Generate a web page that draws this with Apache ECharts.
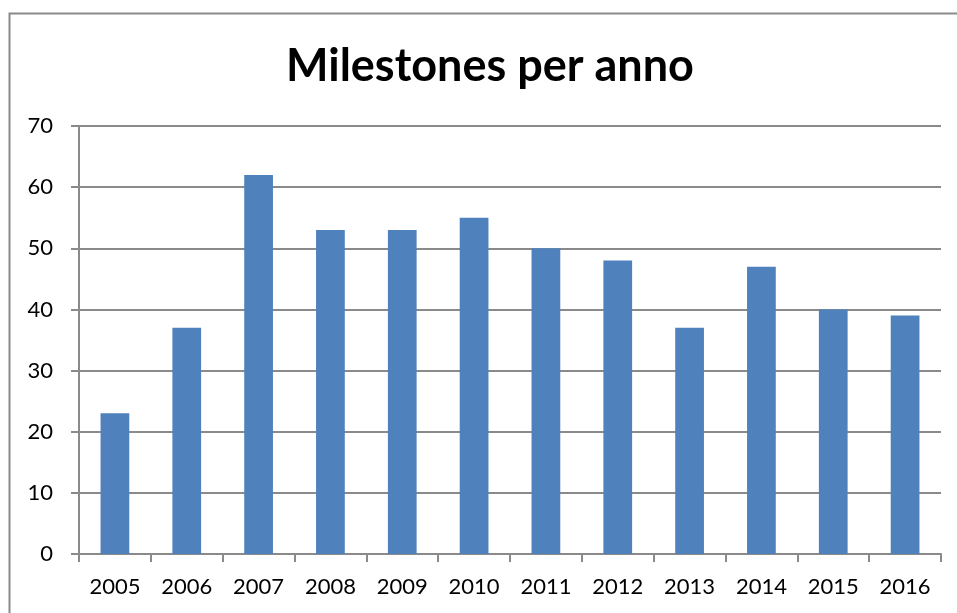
<!DOCTYPE html>
<html>
<head>
<meta charset="utf-8">
<script src="https://cdn.jsdelivr.net/npm/echarts@6/dist/echarts.min.js"></script>
<style>
  html, body { margin: 0; padding: 0; background: #fff; }
  #chart { width: 957px; height: 613px; }
</style>
</head>
<body>
<div id="chart"></div>
<script>
var years = ['2005', '2006', '2007', '2008', '2009', '2010', '2011', '2012', '2013', '2014', '2015', '2016']
var milestones = [23, 37, 62, 53, 53, 55, 50, 48, 37, 47, 40, 39]
var yTicks = { min: 0, max: 70, interval: 10 }

var chart = echarts.init(document.getElementById('chart'))
chart.setOption({
  animation: false,
  textStyle: { fontFamily: 'Lato' },
  graphic: [{
    type: 'rect',
    shape: { x: 9.5, y: 13.5, width: 960, height: 620 },
    style: { fill: 'none', stroke: '#8a8a8a', lineWidth: 2 }
  }],
  title: {
    text: 'Milestones per anno',
    left: 286,
    top: 44,
    padding: 0,
    textStyle: { fontSize: 45, fontWeight: 'bold', color: '#000', fontFamily: 'Lato' }
  },
  grid: {
    left: 79,
    right: 16,
    top: 126,
    bottom: 59,
    containLabel: false
  },
  xAxis: {
    type: 'category',
    data: years,
    axisLine: { lineStyle: { color: '#8a8a8a', width: 2 } },
    axisTick: { show: true, length: 8, lineStyle: { color: '#8a8a8a', width: 2 } },
    axisLabel: { color: '#000', fontSize: 22, margin: 22 }
  },
  yAxis: {
    type: 'value',
    min: yTicks.min,
    max: yTicks.max,
    interval: yTicks.interval,
    axisLine: { show: true, lineStyle: { color: '#8a8a8a', width: 2 } },
    axisTick: { show: true, length: 8, lineStyle: { color: '#8a8a8a', width: 2 } },
    splitLine: { lineStyle: { color: '#8a8a8a', width: 2 } },
    axisLabel: { color: '#000', fontSize: 22, margin: 26 }
  },
  series: [{
    type: 'bar',
    data: milestones,
    barWidth: '40%',
    itemStyle: { color: '#4F81BD' }
  }]
})
</script>
</body>
</html>
